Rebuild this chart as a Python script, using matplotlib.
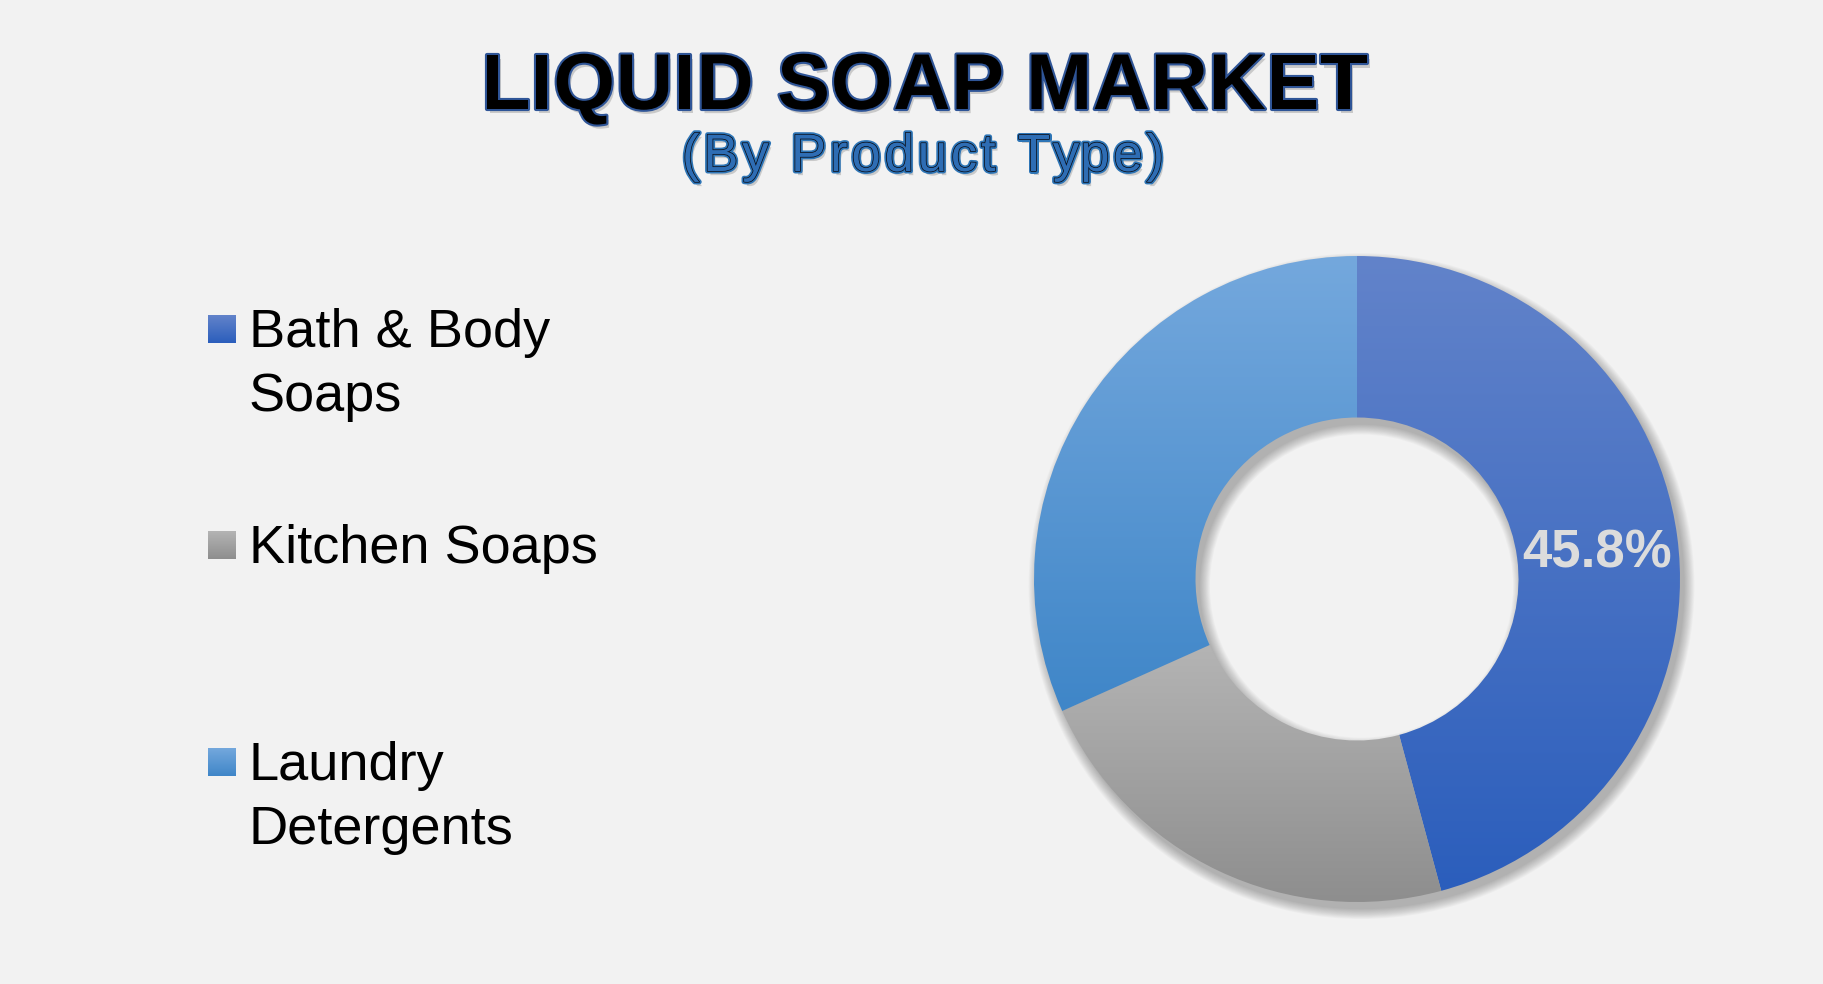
import matplotlib
matplotlib.use('Agg')
import matplotlib.pyplot as plt
import matplotlib.patheffects as pe
from matplotlib.patches import Wedge
import numpy as np

plt.rcParams['font.family'] = ['Liberation Sans', 'DejaVu Sans']

## Data
categories = ['Bath & Body\nSoaps', 'Kitchen Soaps', 'Laundry\nDetergents']
shares = [45.8, 22.5, 31.7]
# gradient colours (top, bottom) per slice
grad_colors = [('#6283CA', '#2B5EBC'),
               ('#B4B4B4', '#8E8E8E'),
               ('#74A8DD', '#3F86C8')]
title = 'LIQUID SOAP MARKET'
subtitle = '(By Product Type)'

W, H = 1824, 984
BG = '#F2F2F2'


def hex_rgb(c):
    c = c.lstrip('#')
    return np.array([int(c[i:i + 2], 16) / 255 for i in (0, 2, 4)])


def vgrad(top, bottom, n=256):
    t = np.linspace(0, 1, n)[:, None]
    g = (1 - t) * hex_rgb(top) + t * hex_rgb(bottom)
    return g[:, None, :]


def spaced_text(ax, s, xc, y, extra, **kw):
    """Draw `s` centred at xc with `extra` pixels between letters."""
    r = ax.figure.canvas.get_renderer()

    def wid(t):
        tt = ax.text(0, 0, t + '|', **kw)
        w = tt.get_window_extent(r).width
        tt.remove()
        return w

    bar = wid('')
    adv = [wid(s[:i]) - bar for i in range(len(s) + 1)]
    total = adv[-1] + extra * (len(s) - 1)
    x0 = xc - total / 2
    for i, ch in enumerate(s):
        if ch != ' ':
            ax.text(x0 + adv[i] + extra * i, y, ch, ha='left', va='baseline', **kw)


fig = plt.figure(figsize=(W / 100, H / 100), dpi=100, facecolor=BG)

# full-figure axes in pixel coordinates for texts / legend
bg = fig.add_axes([0, 0, 1, 1])
bg.set_xlim(0, W)
bg.set_ylim(H, 0)
bg.axis('off')

shadow = pe.withSimplePatchShadow(offset=(2, -3), shadow_rgbFace='#999999', alpha=0.45)
spaced_text(bg, title, W / 2 + 13, 109, 0.8, fontsize=57, fontweight='bold',
            color='black',
            path_effects=[shadow, pe.withStroke(linewidth=3.0, foreground='#2F5597')])
spaced_text(bg, subtitle, W / 2 + 11, 171, 3.8, fontsize=38, color='#2E6DB4',
            path_effects=[shadow,
                          pe.Stroke(linewidth=3.6, foreground='#2E75B6'),
                          pe.Stroke(linewidth=1.1, foreground='#0B0F1A'),
                          pe.Normal()])

# legend
for i, (lab, (c_top, c_bot)) in enumerate(zip(categories, grad_colors)):
    yc = 329 + i * 216.5
    bg.imshow(vgrad(c_top, c_bot), extent=(208, 236, yc + 14, yc - 14),
              aspect='auto', interpolation='bilinear', zorder=2)
    bg.text(249, yc - 21, lab, ha='left', va='top', fontsize=39,
            color='black', linespacing=1.36)
bg.set_xlim(0, W)
bg.set_ylim(H, 0)

## Donut
cx, cy, R = 1357, 579, 323
half = 360
ax = fig.add_axes([(cx - half) / W, (H - cy - half) / H, 2 * half / W, 2 * half / H])
lim = half / R
ax.axis('off')

# soft drop shadow (down-right)
for k in range(12):
    e = 0.0028 * k
    ax.add_patch(Wedge((0.014, -0.022), 1 + e, 0, 360, width=0.5 + 2 * e,
                       facecolor='black', edgecolor='none', alpha=0.022, zorder=0))

wedges, texts, autotexts = ax.pie(
    shares, startangle=90, counterclock=False, radius=1,
    wedgeprops=dict(width=0.5, edgecolor='none', linewidth=0),
    autopct=lambda p: f'{p:.1f}%' if p > 40 else '',
    pctdistance=0.75,
    textprops=dict(fontsize=38, fontweight='bold', color='#DCDCDC'))

for w, (c_top, c_bot) in zip(wedges, grad_colors):
    w.set_facecolor('none')
    bb = w.get_path().get_extents()
    im = ax.imshow(vgrad(c_top, c_bot), extent=(bb.x0, bb.x1, bb.y0, bb.y1),
                   aspect='auto', interpolation='bilinear', zorder=1)
    im.set_clip_path(w)

for t in autotexts:
    t.set_zorder(5)
    x, y = t.get_position()
    t.set_position((x, y - 0.02))

ax.set_aspect('equal')
ax.set_xlim(-lim, lim)
ax.set_ylim(-lim, lim)

fig.savefig('out.png', dpi=100, facecolor=BG)
